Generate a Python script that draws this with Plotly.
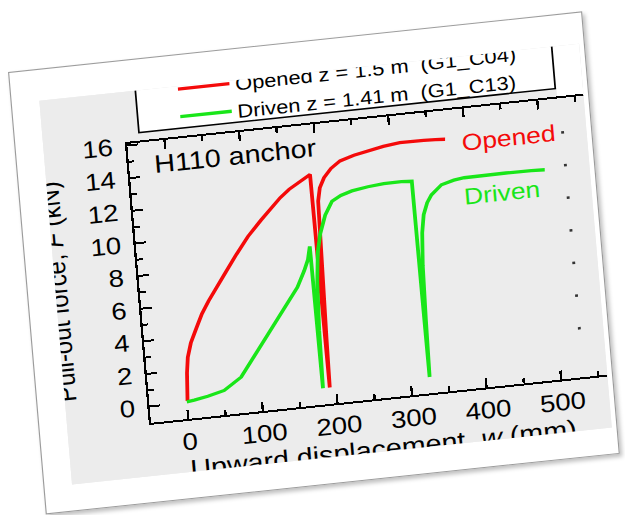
import plotly.graph_objects as go

# ---------------- data ----------------
opened_name = "Opened z = 1.5 m\u00a0\u00a0(G1_C04)"
driven_name = "Driven z = 1.41 m\u00a0\u00a0(G1_C13)"

opened_x = [1, 2, 3.5, 6.3, 12, 21.4, 30, 40.4, 52, 64.5, 82.8, 100, 119, 135, 147.3,
            160, 175, 189.5, 190.5, 191.6, 192.8, 194.5, 196, 197.3, 201, 207.7, 218,
            230.9, 250, 269, 290, 312.4, 330, 344.4, 360, 373]
opened_y = [0.1, 1.0, 1.8, 2.74, 3.6, 4.5, 5.3, 6.04, 6.8, 7.56, 8.7, 9.7, 10.6, 11.3, 11.85,
            12.3, 12.7, 13.07, 6.5, 0.0, 3.0, 6.5, 9.5, 11.4, 12.2, 12.78, 13.3,
            13.7, 13.95, 14.1, 14.3, 14.42, 14.43, 14.41, 14.38, 14.34]

driven_x = [0, 10, 28.5, 51, 75, 90, 105, 121.6, 145.9, 160, 170.8, 177, 181, 181.8, 182.5,
            184, 187, 191, 196.2, 205, 215.7, 228, 243.3, 265, 286.5, 310, 324, 324.8, 325.5,
            327, 329, 332, 336, 342, 348.5, 363, 380, 394, 415, 450, 484, 502]
driven_y = [0.05, 0.1, 0.25, 0.5, 1.2, 2.1, 3.0, 3.95, 5.4, 6.3, 7.25, 7.9, 8.7, 4.0, 0.0,
            3.5, 6.5, 8.3, 9.37, 10.5, 11.3, 11.6, 11.8, 11.95, 12.04, 12.05, 12.0, 5.0, 0.0,
            3.5, 6.8, 8.8, 9.9, 10.6, 11.05, 11.6, 11.8, 11.88, 11.9, 11.9, 11.88, 11.85]

x_range = [-50, 562]
y_range = [-1, 16.1]
x_tick_vals = [0, 100, 200, 300, 400, 500]
y_tick_vals = [0, 2, 4, 6, 8, 10, 12, 14, 16]
right_dot_y = [2, 4, 6, 8, 10, 12, 14]   # tick stubs seen on the right-hand edge
right_dot_x = 530

label_anchor = ("H110 anchor", -20, 14.7)
label_opened = ("Opened", 391, 14.0)
label_driven = ("Driven", 388, 10.7)

RED = "#f40a0a"
GREEN = "#19e619"
FONT = "Liberation Sans, Arial, Helvetica, sans-serif"

# ---------------- geometry of the cropped picture ----------------
CW, CH = 472, 385            # visible (cropped) part of the chart picture
ML, MR, MT, MB = 73, 0, 52, 53
PW, PH = CW - ML - MR, CH - MT - MB
EL, ET, EB = 40, 30, 30      # extra figure area hidden by the crop
W, H = CW + EL, CH + ET + EB


def px_x(fx):  # crop px -> paper x
    return (fx - ML) / PW


def px_y(fy):  # crop px (from top) -> paper y
    return 1 + (MT - fy) / PH


fig = go.Figure()
fig.add_trace(go.Scatter(x=opened_x, y=opened_y, mode="lines", name=opened_name,
                         line=dict(color=RED, width=3.3)))
fig.add_trace(go.Scatter(x=driven_x, y=driven_y, mode="lines", name=driven_name,
                         line=dict(color=GREEN, width=3.3)))
fig.add_trace(go.Scatter(x=[right_dot_x] * len(right_dot_y), y=right_dot_y, mode="markers",
                         showlegend=False, hoverinfo="skip",
                         marker=dict(symbol="square", size=2.5, color="#333333",
                                     line=dict(width=0))))

axis_common = dict(
    showline=True, linecolor="black", linewidth=2,
    ticks="inside", tickcolor="black", tickwidth=2,
    showgrid=False, zeroline=False, automargin=False,
)

fig.update_xaxes(
    **axis_common, range=x_range, tickvals=x_tick_vals, ticklen=9, mirror="ticks",
    minor=dict(dtick=50, tick0=0, ticks="inside", ticklen=5, tickwidth=2, tickcolor="black"),
    tickfont=dict(size=24, color="black", family=FONT), ticklabelstandoff=0,
    title=dict(text="Upward displacement, <i>w</i> (mm)", standoff=3,
               font=dict(size=25, color="black", family=FONT)),
)
fig.update_yaxes(
    **axis_common, range=y_range, tickvals=y_tick_vals, ticklen=9,
    minor=dict(dtick=1, tick0=0, ticks="inside", ticklen=5, tickwidth=2, tickcolor="black"),
    tickfont=dict(size=24, color="black", family=FONT), ticklabelstandoff=6,
    title=dict(text="Pull-out force, <i>F</i> (kN)", standoff=16,
               font=dict(size=24, color="black", family=FONT)),
)

fig.add_annotation(x=label_anchor[1], y=label_anchor[2], text=label_anchor[0], showarrow=False,
                   xanchor="left", yanchor="middle", font=dict(size=25, color="black", family=FONT))
fig.add_annotation(x=label_opened[1], y=label_opened[2], text=label_opened[0], showarrow=False,
                   xanchor="left", yanchor="middle", font=dict(size=23, color=RED, family=FONT))
fig.add_annotation(x=label_driven[1], y=label_driven[2], text=label_driven[0], showarrow=False,
                   xanchor="left", yanchor="middle", font=dict(size=23, color=GREEN, family=FONT))

# legend frame (cut by the top of the picture) and the white corner beside it
fig.add_shape(type="rect", xref="paper", yref="paper", layer="above",
              x0=px_x(84), x1=px_x(448), y0=px_y(42), y1=px_y(-25),
              fillcolor="white", line=dict(color="black", width=1.5))
fig.add_shape(type="rect", xref="paper", yref="paper", layer="below",
              x0=px_x(449), x1=px_x(480), y0=px_y(52), y1=px_y(-25),
              fillcolor="white", line=dict(width=0))

fig.update_layout(
    width=W, height=H,
    margin=dict(l=ML + EL, r=MR, t=MT + ET, b=MB + EB, pad=0, autoexpand=False),
    paper_bgcolor="#ececec", plot_bgcolor="#ececec",
    font=dict(family=FONT, color="black"),
    showlegend=True,
    legend=dict(x=px_x(116), y=px_y(-16), xanchor="left", yanchor="top",
                bgcolor="rgba(0,0,0,0)", borderwidth=0, itemwidth=45,
                tracegroupgap=0,
                font=dict(size=19, color="black", family=FONT)),
)

post = """
var gd = document.getElementById('{plot_id}');
document.documentElement.style.margin = '0';
document.body.style.margin = '0';
document.body.style.background = '#ffffff';
document.body.style.overflow = 'hidden';
var card = document.createElement('div');
card.style.cssText = 'position:absolute;left:0;top:0;width:502px;height:444px;background:#ffffff;' +
  'border:1.5px solid #9c9c9c;box-sizing:border-box;box-shadow:2px 3px 4px rgba(0,0,0,0.25);' +
  'transform-origin:0 0;transform:matrix(1.1437,-0.1208,0.085,0.9964,8,72);overflow:hidden;';
var crop = document.createElement('div');
crop.style.cssText = 'position:absolute;left:24px;top:31px;width:472px;height:385px;' +
  'overflow:hidden;background:#ececec;';
card.appendChild(crop);
document.body.appendChild(card);
gd.style.position = 'absolute';
gd.style.left = '-40px';
gd.style.top = '-30px';
crop.appendChild(gd);
"""

fig.write_html("out.html", config={"displayModeBar": False}, post_script=post)
